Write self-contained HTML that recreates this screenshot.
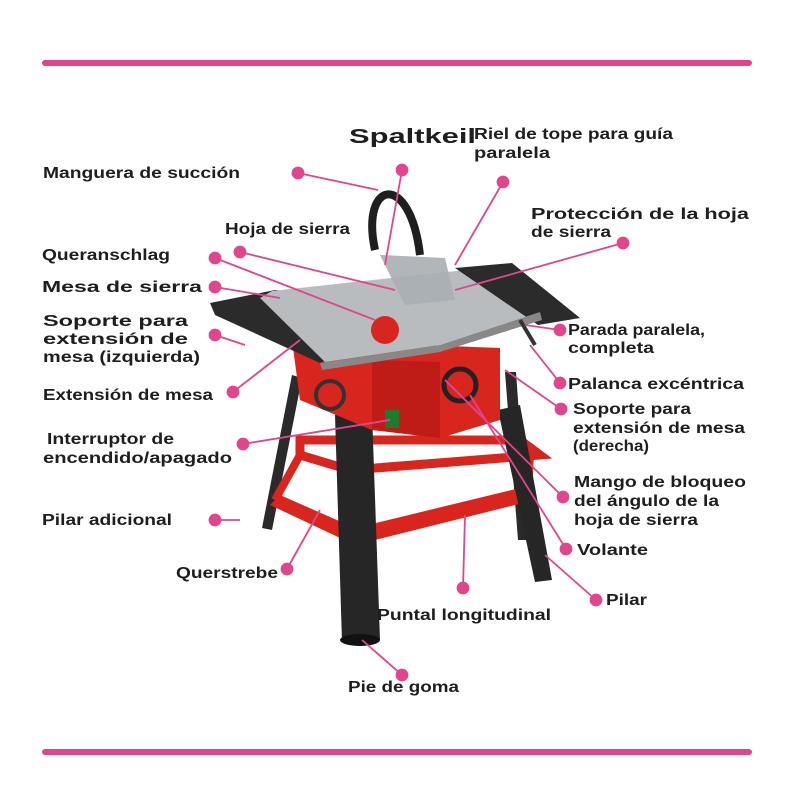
<!DOCTYPE html>
<html><head><meta charset="utf-8"><style>
html,body{margin:0;padding:0;background:#fff;}
svg{display:block;}
text{font-family:"Liberation Sans",sans-serif;font-weight:bold;font-size:16px;fill:#1e1e1e;}
</style></head><body>
<svg width="800" height="800" viewBox="0 0 800 800">
<line x1="45" y1="63" x2="749" y2="63" stroke="#e0468c" stroke-width="6" stroke-linecap="round"/>
<line x1="45" y1="752" x2="749" y2="752" stroke="#e0468c" stroke-width="6" stroke-linecap="round"/>

<!-- saw: legs back -->
<polygon points="292,375 302,378 272,530 262,528" fill="#2a2a2a"/>
<polygon points="505,372 516,372 528,540 518,540" fill="#2a2a2a"/>
<!-- red frame -->
<polygon points="300,440 520,440 540,455 350,470 300,455" fill="none" stroke="#d8261f" stroke-width="9"/>
<polygon points="270,505 355,545 535,500 520,488 355,528 280,495" fill="#d8261f"/>
<line x1="300" y1="455" x2="275" y2="500" stroke="#d8261f" stroke-width="8"/>
<line x1="530" y1="452" x2="528" y2="495" stroke="#d8261f" stroke-width="8"/>
<!-- front legs -->
<polygon points="335,415 372,412 380,640 342,642" fill="#262626"/>
<polygon points="498,410 520,405 552,580 535,582" fill="#262626"/>
<ellipse cx="360" cy="640" rx="20" ry="6" fill="#111"/>
<!-- red body -->
<polygon points="292,340 500,348 500,420 440,438 372,430 300,400" fill="#d8261f"/>
<polygon points="372,360 440,362 440,438 372,430" fill="#c01c17"/>
<rect x="385" y="410" width="14" height="18" fill="#1e7a2c"/>
<circle cx="460" cy="385" r="16" fill="none" stroke="#222" stroke-width="5"/>
<circle cx="330" cy="395" r="14" fill="none" stroke="#333" stroke-width="4"/>
<!-- table -->
<polygon points="210,303 275,290 360,300 390,330 320,363 215,315" fill="#2b2b2b"/>
<polygon points="272,291 465,270 540,312 440,345 325,362 260,298" fill="#b9bcbf"/>
<polygon points="455,268 512,263 580,318 538,325" fill="#2b2b2b"/>
<polygon points="320,363 440,345 540,312 542,320 440,352 322,370" fill="#888"/>
<!-- fence / guard -->
<polygon points="380,255 445,258 455,300 405,305" fill="#a9aeb2" opacity="0.9"/>
<circle cx="385" cy="330" r="14" fill="#d8261f"/>
<!-- hose -->
<path d="M420,255 C410,170 360,180 375,250" fill="none" stroke="#1f1f1f" stroke-width="8"/>
<line x1="520" y1="320" x2="535" y2="345" stroke="#333" stroke-width="4"/>

<!-- leader lines -->
<g stroke="#e0468c" stroke-width="1.8" fill="#e0468c">
<line x1="298" y1="173" x2="378" y2="190"/><circle cx="298" cy="173" r="5.5"/>
<line x1="402" y1="170" x2="385" y2="265"/><circle cx="402" cy="170" r="5.5"/>
<line x1="503" y1="182" x2="455" y2="265"/><circle cx="503" cy="182" r="5.5"/>
<line x1="623" y1="243" x2="455" y2="290"/><circle cx="623" cy="243" r="5.5"/>
<line x1="240" y1="252" x2="395" y2="290"/><circle cx="240" cy="252" r="5.5"/>
<line x1="215" y1="258" x2="375" y2="320"/><circle cx="215" cy="258" r="5.5"/>
<line x1="215" y1="287" x2="280" y2="298"/><circle cx="215" cy="287" r="5.5"/>
<line x1="215" y1="335" x2="245" y2="345"/><circle cx="215" cy="335" r="5.5"/>
<line x1="233" y1="392" x2="300" y2="340"/><circle cx="233" cy="392" r="5.5"/>
<line x1="243" y1="444" x2="390" y2="420"/><circle cx="243" cy="444" r="5.5"/>
<line x1="215" y1="520" x2="240" y2="520"/><circle cx="215" cy="520" r="5.5"/>
<line x1="287" y1="569" x2="320" y2="510"/><circle cx="287" cy="569" r="5.5"/>
<line x1="463" y1="588" x2="465" y2="515"/><circle cx="463" cy="588" r="5.5"/>
<line x1="402" y1="675" x2="362" y2="640"/><circle cx="402" cy="675" r="5.5"/>
<line x1="596" y1="600" x2="545" y2="555"/><circle cx="596" cy="600" r="5.5"/>
<line x1="566" y1="549" x2="470" y2="395"/><circle cx="566" cy="549" r="5.5"/>
<line x1="563" y1="497" x2="445" y2="380"/><circle cx="563" cy="497" r="5.5"/>
<line x1="561" y1="409" x2="505" y2="370"/><circle cx="561" cy="409" r="5.5"/>
<line x1="560" y1="383" x2="530" y2="345"/><circle cx="560" cy="383" r="5.5"/>
<line x1="560" y1="330" x2="525" y2="325"/><circle cx="560" cy="330" r="5.5"/>
</g>

<!-- labels -->
<text x="43" y="178" textLength="197" lengthAdjust="spacingAndGlyphs">Manguera de succión</text>
<text x="349" y="143" textLength="127" lengthAdjust="spacingAndGlyphs" style="font-size:20px">Spaltkeil</text>
<text x="474" y="139" textLength="199" lengthAdjust="spacingAndGlyphs">Riel de tope para guía</text>
<text x="474" y="158" textLength="76" lengthAdjust="spacingAndGlyphs">paralela</text>
<text x="531" y="219" textLength="218" lengthAdjust="spacingAndGlyphs">Protección de la hoja</text>
<text x="531" y="237" textLength="80" lengthAdjust="spacingAndGlyphs">de sierra</text>
<text x="225" y="234" textLength="125" lengthAdjust="spacingAndGlyphs">Hoja de sierra</text>
<text x="42" y="260" textLength="128" lengthAdjust="spacingAndGlyphs">Queranschlag</text>
<text x="42" y="292" textLength="160" lengthAdjust="spacingAndGlyphs">Mesa de sierra</text>
<text x="43" y="326" textLength="145" lengthAdjust="spacingAndGlyphs">Soporte para</text>
<text x="43" y="344" textLength="145" lengthAdjust="spacingAndGlyphs">extensión de</text>
<text x="43" y="362" textLength="157" lengthAdjust="spacingAndGlyphs">mesa (izquierda)</text>
<text x="43" y="400" textLength="170" lengthAdjust="spacingAndGlyphs">Extensión de mesa</text>
<text x="47" y="444" textLength="127" lengthAdjust="spacingAndGlyphs">Interruptor de</text>
<text x="43" y="463" textLength="189" lengthAdjust="spacingAndGlyphs">encendido/apagado</text>
<text x="42" y="525" textLength="130" lengthAdjust="spacingAndGlyphs">Pilar adicional</text>
<text x="176" y="578" textLength="102" lengthAdjust="spacingAndGlyphs">Querstrebe</text>
<text x="377" y="620" textLength="174" lengthAdjust="spacingAndGlyphs">Puntal longitudinal</text>
<text x="348" y="692" textLength="111" lengthAdjust="spacingAndGlyphs">Pie de goma</text>
<text x="606" y="605" textLength="41" lengthAdjust="spacingAndGlyphs">Pilar</text>
<text x="577" y="555" textLength="71" lengthAdjust="spacingAndGlyphs">Volante</text>
<text x="574" y="487" textLength="172" lengthAdjust="spacingAndGlyphs">Mango de bloqueo</text>
<text x="574" y="506" textLength="145" lengthAdjust="spacingAndGlyphs">del ángulo de la</text>
<text x="574" y="525" textLength="124" lengthAdjust="spacingAndGlyphs">hoja de sierra</text>
<text x="573" y="414" textLength="118" lengthAdjust="spacingAndGlyphs">Soporte para</text>
<text x="573" y="433" textLength="172" lengthAdjust="spacingAndGlyphs">extensión de mesa</text>
<text x="573" y="451" textLength="76" lengthAdjust="spacingAndGlyphs">(derecha)</text>
<text x="568" y="389" textLength="176" lengthAdjust="spacingAndGlyphs">Palanca excéntrica</text>
<text x="568" y="335" textLength="137" lengthAdjust="spacingAndGlyphs">Parada paralela,</text>
<text x="568" y="353" textLength="86" lengthAdjust="spacingAndGlyphs">completa</text>
</svg>
</body></html>
